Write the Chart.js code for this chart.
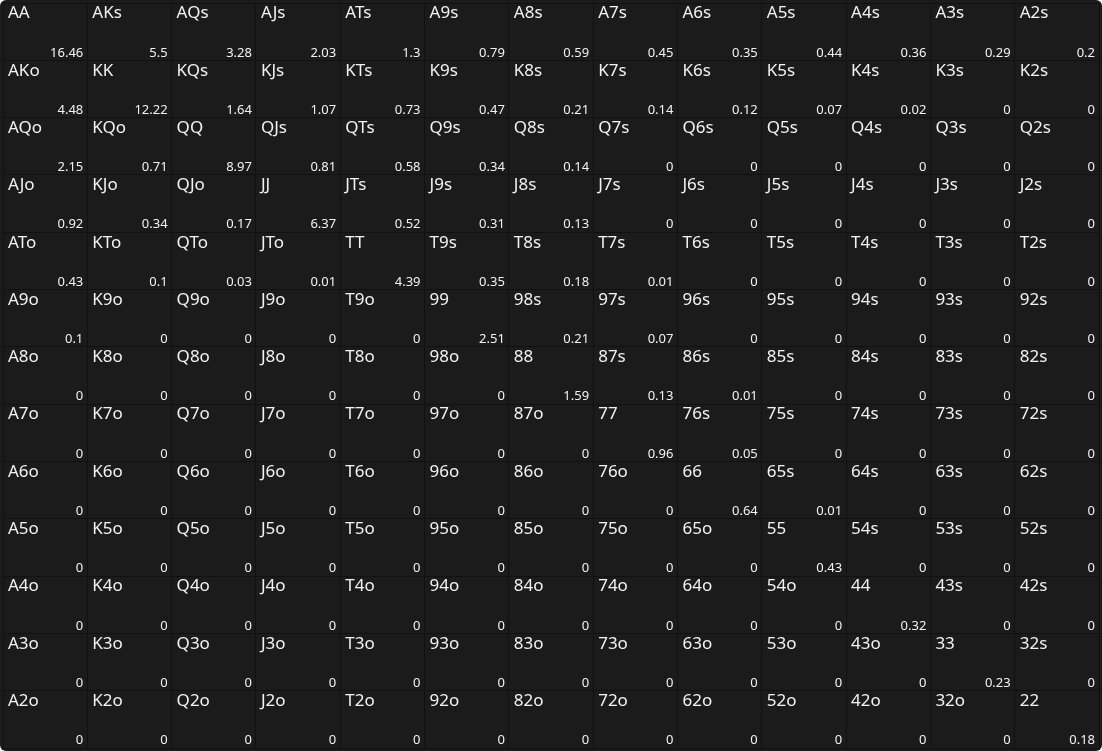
<!DOCTYPE html>
<html>
<head>
<meta charset="utf-8">
<script src="https://cdn.jsdelivr.net/npm/chart.js@4"></script>
<style>
html,body{margin:0;padding:0;background:#fff;}
#wrap{position:absolute;left:0;top:0;width:1102px;height:751px;background:#1b1b1b;border-radius:6px;}
</style>
</head>
<body>
<div id="wrap"><canvas id="myChart" width="1102" height="751"></canvas></div>
<script>
const ranks = ['A','K','Q','J','T','9','8','7','6','5','4','3','2'];

// row by row, 13 cells each
const values = [
  [16.46,5.5,3.28,2.03,1.3,0.79,0.59,0.45,0.35,0.44,0.36,0.29,0.2],
  [4.48,12.22,1.64,1.07,0.73,0.47,0.21,0.14,0.12,0.07,0.02,0,0],
  [2.15,0.71,8.97,0.81,0.58,0.34,0.14,0,0,0,0,0,0],
  [0.92,0.34,0.17,6.37,0.52,0.31,0.13,0,0,0,0,0,0],
  [0.43,0.1,0.03,0.01,4.39,0.35,0.18,0.01,0,0,0,0,0],
  [0.1,0,0,0,0,2.51,0.21,0.07,0,0,0,0,0],
  [0,0,0,0,0,0,1.59,0.13,0.01,0,0,0,0],
  [0,0,0,0,0,0,0,0.96,0.05,0,0,0,0],
  [0,0,0,0,0,0,0,0,0.64,0.01,0,0,0],
  [0,0,0,0,0,0,0,0,0,0.43,0,0,0],
  [0,0,0,0,0,0,0,0,0,0,0.32,0,0],
  [0,0,0,0,0,0,0,0,0,0,0,0.23,0],
  [0,0,0,0,0,0,0,0,0,0,0,0,0.18]
];

// share of raise per cell
const raise = [
  [1,1,0.9,0,0,0,0,0.4,0.5,0.37,0.4,0.27,0.18],
  [1,1,0,0,0,0,0.3,0.37,0.3,0.42,0.32,0,0],
  [0,0.39,1,0,0,0.32,0.69,0.55,0.47,0,0,0,0],
  [0.46,0.36,0.43,0.87,0,0,0.27,0.17,0,0,0,0,0],
  [0.36,0.39,0.52,0.45,0.87,0.29,0.18,0.25,0,0,0,0,0],
  [0.52,0.12,0,0,0,0.32,0.3,0.2,0,0,0,0,0],
  [0.64,0,0,0,0,0,0.24,0.17,0,0,0,0,0],
  [0,0,0,0,0,0,0,0.26,0.1,0,0,0,0],
  [0,0,0,0,0,0,0,0,0.15,0.11,0,0,0],
  [0,0,0,0,0,0,0,0,0,0,0,0,0],
  [0,0,0,0,0,0,0,0,0,0,0,0,0],
  [0,0,0,0,0,0,0,0,0,0,0,0,0],
  [0,0,0,0,0,0,0,0,0,0,0,0,0]
];

// share of call per cell
const call = [
  [0,0,0.1,1,1,1,1,0.6,0.5,0.63,0.6,0.73,0.82],
  [0,0,1,1,1,1,0.7,0.63,0.7,0.58,0.68,0,0],
  [1,0.61,0,1,1,0.68,0.31,0.41,0.36,0,0,0,0],
  [0.54,0.64,0.57,0.13,1,1,0.73,0,0,0,0,0,0],
  [0.64,0.61,0.48,0.55,0.13,0.71,0.82,0.75,0,0,0,0,0],
  [0.48,0,0,0,0,0.68,0.7,0.8,0,0,0,0,0],
  [0,0,0,0,0,0,0.76,0.83,1,0,0,0,0],
  [0,0,0,0,0,0,0,0.74,0.9,0,0,0,0],
  [0,0,0,0,0,0,0,0,0.85,0.89,0,0,0],
  [0,0,0,0,0,0,0,0,0,1,0.62,0,0],
  [0,0,0,0,0,0,0,0,0,0,1,0,0],
  [0,0,0,0,0,0,0,0,0,0,0,1,0],
  [0,0,0,0,0,0,0,0,0,0,0,0,1]
];

function handName(r, c){
  if(r == c) return ranks[r] + ranks[c];
  if(c > r) return ranks[r] + ranks[c] + 's';
  return ranks[c] + ranks[r] + 'o';
}

let raiseData = [], callData = [], foldData = [];
for(let r = 0; r < 13; r++){
  for(let c = 0; c < 13; c++){
    let a = raise[r][c], b = call[r][c];
    if(a > 0) raiseData.push({x:[c, c + a], y:r + 0.5});
    if(b > 0) callData.push({x:[c + a, c + a + b], y:r + 0.5});
    if(a + b < 1) foldData.push({x:[c + a + b, c + 1], y:r + 0.5});
  }
}

const labelPlugin = {
  id: 'cellLabels',
  afterDatasetsDraw(chart){
    const g = chart.ctx, xs = chart.scales.x, ys = chart.scales.y;
    g.save();
    g.fillStyle = '#f2f2f2';
    for(let r = 0; r < 13; r++){
      for(let c = 0; c < 13; c++){
        const x0 = xs.getPixelForValue(c), x1 = xs.getPixelForValue(c + 1);
        const y0 = ys.getPixelForValue(r), y1 = ys.getPixelForValue(r + 1);
        g.font = '17px "Noto Sans"';
        g.textAlign = 'left'; g.textBaseline = 'top';
        g.fillText(handName(r, c), x0 + 5, y0 + 2);
        g.font = '13px "Noto Sans"';
        g.textAlign = 'right'; g.textBaseline = 'bottom';
        g.fillText(String(values[r][c]), x1 - 4, y1 - 1);
      }
    }
    g.restore();
  }
};

const ctx = document.getElementById('myChart');
const common = {grouped:false, barPercentage:1, categoryPercentage:1, barThickness:'flex', borderWidth:0, borderSkipped:false};
new Chart(ctx, {
  type: 'bar',
  data: {
    datasets: [
      Object.assign({label:'raise', data:raiseData, backgroundColor:'#f25656'}, common),
      Object.assign({label:'call', data:callData, backgroundColor:'#5cb967'}, common),
      Object.assign({label:'fold', data:foldData, backgroundColor:'#3a7f99'}, common)
    ]
  },
  options: {
    indexAxis: 'y',
    responsive: false,
    animation: false,
    layout: {padding:{left:3, right:3, top:3, bottom:3}},
    plugins: {legend:{display:false}, tooltip:{enabled:false}},
    scales: {
      x: {type:'linear', min:0, max:13, z:1, offset:false,
          ticks:{display:false, stepSize:1},
          grid:{color:'#111', lineWidth:1, drawTicks:false, offset:false},
          border:{display:false}},
      y: {type:'linear', min:0, max:13, reverse:true, z:1, offset:false,
          ticks:{display:false, stepSize:1},
          grid:{color:'#111', lineWidth:1, drawTicks:false, offset:false},
          border:{display:false}}
    }
  },
  plugins: [labelPlugin]
});
</script>
</body>
</html>
